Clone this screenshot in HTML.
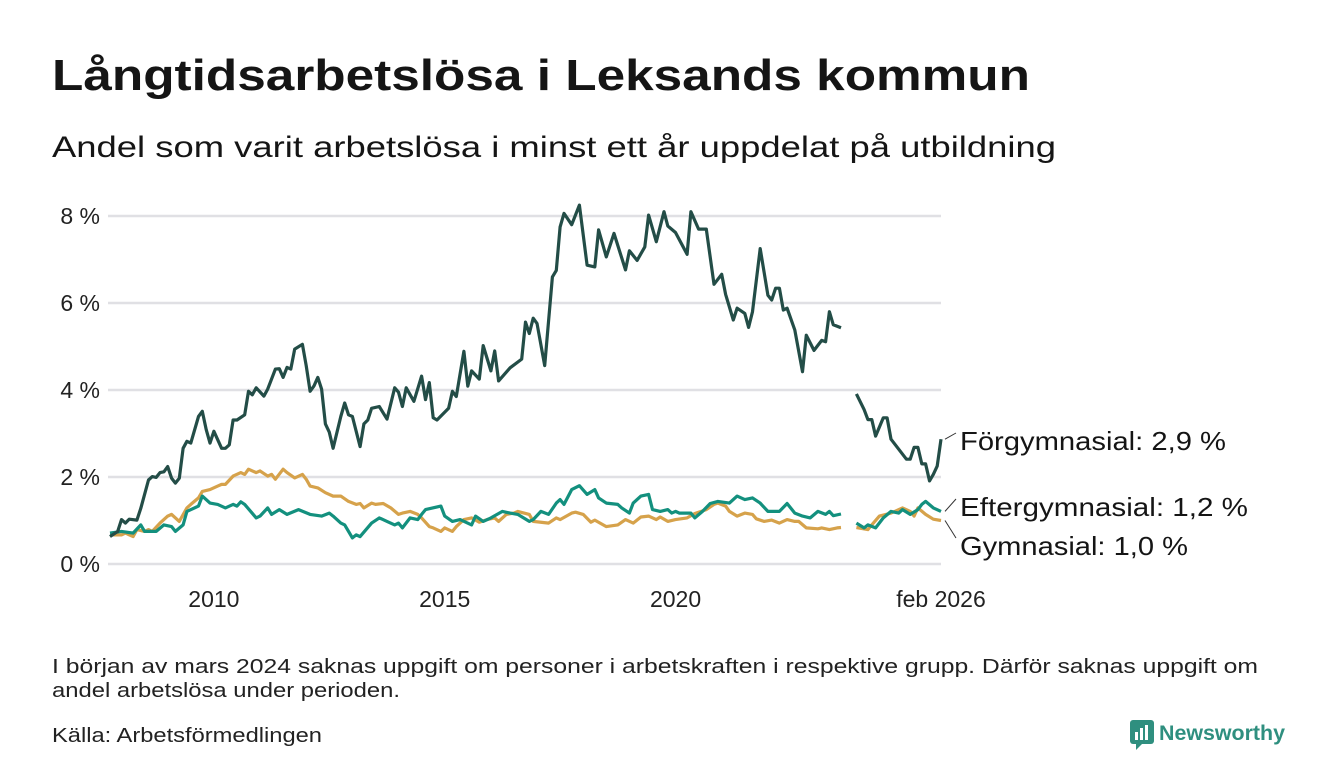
<!DOCTYPE html>
<html><head><meta charset="utf-8"><style>
html,body{margin:0;padding:0;background:#fff;}
svg{display:block;font-family:"Liberation Sans",sans-serif;}
</style></head><body>
<svg id="chart" width="1340" height="780" viewBox="0 0 1340 780">
<text x="52" y="90" font-size="44" font-weight="bold" fill="#151515" textLength="978" lengthAdjust="spacingAndGlyphs">Långtidsarbetslösa i Leksands kommun</text>
<text x="52" y="157" font-size="30" fill="#151515" textLength="1004" lengthAdjust="spacingAndGlyphs">Andel som varit arbetslösa i minst ett år uppdelat på utbildning</text>
<g id="grid"></g>
<g id="yticks"></g>
<g id="xticks"></g>
<g id="lines"></g>
<g id="labels"></g>
<text x="52" y="673" font-size="20" fill="#222" textLength="1206" lengthAdjust="spacingAndGlyphs">I början av mars 2024 saknas uppgift om personer i arbetskraften i respektive grupp. Därför saknas uppgift om</text>
<text x="52" y="697" font-size="20" fill="#222" textLength="348" lengthAdjust="spacingAndGlyphs">andel arbetslösa under perioden.</text>
<text x="52" y="742" font-size="20" fill="#222" textLength="270" lengthAdjust="spacingAndGlyphs">Källa: Arbetsförmedlingen</text>
<g>
<rect x="1130" y="720" width="24" height="24" rx="3" fill="#2f8f7f"/>
<rect x="1135" y="732" width="3" height="8" fill="#fff"/><rect x="1140" y="728" width="3" height="12" fill="#fff"/><rect x="1145" y="725" width="3" height="15" fill="#fff"/>
<path d="M1136 744 L1136 750 L1142 744 Z" fill="#2f8f7f"/>
<text x="1159" y="740" font-size="21" font-weight="bold" fill="#2f8f7f" textLength="126" lengthAdjust="spacingAndGlyphs">Newsworthy</text>
</g>
</svg>
<script>
const yTicks=[0,2,4,6,8];
const xTickLabels=["2010","2015","2020","feb 2026"];
const xTickMonths=[27,87,147,216];
const forg=[[0,0.63],[2,0.75],[3,1.02],[4,0.94],[5,1.03],[7,1.01],[8,1.28],[10,1.93],[11,2.01],[12,1.99],[13,2.1],[14,2.12],[15,2.24],[16,1.97],[17,1.86],[18,1.97],[19,2.66],[20,2.82],[21,2.78],[23,3.39],[24,3.51],[25,3.09],[26,2.78],[27,3.05],[29,2.66],[30,2.66],[31,2.74],[32,3.31],[33,3.31],[35,3.43],[36,3.97],[37,3.89],[38,4.05],[40,3.86],[41,4.02],[43,4.48],[44,4.49],[45,4.29],[46,4.52],[47,4.48],[48,4.94],[50,5.05],[51,4.56],[52,3.97],[53,4.09],[54,4.29],[55,4.02],[56,3.22],[57,3.03],[58,2.66],[60,3.39],[61,3.7],[62,3.43],[63,3.39],[65,2.7],[66,3.22],[67,3.31],[68,3.58],[70,3.62],[72,3.33],[74,4.05],[75,3.95],[76,3.62],[77,4.05],[79,3.74],[81,4.32],[82,3.78],[83,4.17],[84,3.36],[85,3.31],[88,3.58],[89,3.97],[90,3.85],[92,4.89],[93,4.09],[94,4.44],[96,4.25],[97,5.02],[99,4.44],[100,4.9],[101,4.21],[104,4.51],[107,4.71],[108,5.56],[109,5.3],[110,5.65],[111,5.53],[113,4.56],[115,6.6],[116,6.75],[117,7.75],[118,8.06],[120,7.8],[122,8.25],[124,6.87],[126,6.83],[127,7.68],[129,7.06],[131,7.6],[134,6.76],[135,7.2],[137,6.98],[139,7.29],[140,8.02],[142,7.41],[144,8.1],[145,7.77],[147,7.62],[150,7.12],[151,8.1],[153,7.7],[155,7.7],[157,6.43],[159,6.66],[160,6.2],[162,5.61],[163,5.88],[165,5.76],[166,5.44],[167,5.8],[169,7.25],[171,6.18],[172,6.07],[173,6.34],[174,6.34],[175,5.84],[176,5.88],[178,5.38],[180,4.42],[181,5.26],[183,4.91],[185,5.14],[186,5.11],[187,5.8],[188,5.5],[190,5.43],[192,null],[194,3.91],[196,3.55],[197,3.32],[198,3.32],[199,2.94],[201,3.36],[202,3.36],[203,2.87],[205,2.64],[207,2.41],[208,2.41],[209,2.68],[210,2.68],[211,2.3],[212,2.3],[213,1.91],[214,2.06],[215,2.25],[216,2.87]];
const efter=[[0,0.71],[3,0.75],[6,0.71],[8,0.9],[9,0.75],[12,0.75],[14,0.9],[16,0.86],[17,0.75],[19,0.9],[20,1.21],[23,1.33],[24,1.56],[26,1.4],[28,1.37],[30,1.29],[32,1.37],[33,1.33],[34,1.43],[35,1.37],[38,1.06],[39,1.1],[41,1.29],[42,1.14],[44,1.25],[46,1.14],[49,1.25],[52,1.14],[55,1.1],[57,1.17],[58,1.1],[60,0.94],[61,0.9],[63,0.6],[64,0.67],[65,0.63],[68,0.94],[70,1.06],[72,0.98],[74,0.9],[75,0.94],[76,0.83],[78,1.06],[80,1.02],[81,1.14],[82,1.25],[86,1.33],[87,1.1],[89,0.98],[91,1.02],[94,0.9],[95,1.1],[97,0.98],[99,1.06],[102,1.21],[104,1.17],[106,1.14],[109,0.98],[110,1.02],[112,1.21],[114,1.14],[116,1.4],[117,1.48],[118,1.37],[120,1.71],[122,1.8],[124,1.6],[126,1.71],[127,1.52],[129,1.4],[132,1.37],[133,1.29],[135,1.17],[136,1.4],[138,1.56],[140,1.6],[141,1.25],[143,1.21],[145,1.25],[146,1.17],[147,1.21],[148,1.17],[151,1.17],[152,1.06],[154,1.21],[156,1.39],[158,1.44],[161,1.4],[163,1.56],[165,1.48],[167,1.52],[169,1.4],[171,1.21],[173,1.21],[174,1.21],[176,1.39],[178,1.17],[180,1.1],[182,1.06],[184,1.21],[186,1.14],[187,1.21],[188,1.11],[190,1.15],[192,null],[194,0.94],[196,0.83],[197,0.9],[199,0.83],[201,1.06],[203,1.21],[205,1.17],[206,1.25],[208,1.14],[210,1.25],[211,1.37],[212,1.44],[214,1.29],[216,1.21]];
const gymn=[[0,0.67],[3,0.67],[4,0.71],[6,0.63],[7,0.79],[9,0.75],[10,0.79],[11,0.75],[13,0.94],[15,1.1],[16,1.14],[18,0.98],[20,1.29],[21,1.37],[23,1.52],[24,1.67],[26,1.71],[28,1.79],[29,1.83],[30,1.83],[32,2.02],[34,2.1],[35,2.06],[36,2.18],[38,2.1],[39,2.14],[41,2.02],[42,2.06],[43,1.95],[45,2.18],[46,2.1],[48,1.98],[50,2.06],[51,1.95],[52,1.79],[54,1.75],[56,1.64],[58,1.56],[60,1.56],[62,1.44],[64,1.37],[65,1.39],[66,1.29],[68,1.4],[69,1.37],[71,1.39],[73,1.29],[75,1.14],[76,1.17],[78,1.21],[80,1.14],[81,1.06],[83,0.86],[84,0.83],[86,0.75],[87,0.83],[89,0.75],[90,0.86],[92,1.02],[94,1.06],[96,0.96],[98,1.02],[100,1.06],[101,0.98],[103,1.14],[105,1.17],[106,1.21],[109,1.14],[110,0.98],[114,0.94],[116,1.06],[117,1.02],[120,1.17],[121,1.19],[123,1.14],[125,0.96],[126,1.01],[129,0.86],[132,0.9],[134,1.02],[136,0.94],[138,1.08],[140,1.1],[142,1.02],[143,1.08],[145,0.98],[147,1.02],[150,1.06],[152,1.16],[155,1.25],[157,1.37],[158,1.4],[160,1.33],[161,1.21],[163,1.1],[165,1.17],[167,1.14],[168,1.04],[170,0.98],[172,1.01],[174,0.94],[176,1.02],[178,0.98],[179,0.98],[181,0.83],[184,0.81],[185,0.83],[187,0.79],[189,0.83],[190,0.84],[192,null],[194,0.84],[197,0.79],[198,0.9],[200,1.1],[203,1.17],[204,1.21],[206,1.29],[208,1.21],[209,1.1],[210,1.29],[212,1.14],[214,1.03],[216,1.0]];
const seriesNames=["Förgymnasial","Eftergymnasial","Gymnasial"];
const seriesColors=["#234d47","#13907e","#d6a24b"];

const NS="http://www.w3.org/2000/svg";
const X0=110,X1=941,M1=216,Y0=564,YPER=43.5;
function xs(m){return X0+(X1-X0)*m/M1;}
function ys(v){return Y0-v*YPER;}
function mk(tag,attrs,parent){const e=document.createElementNS(NS,tag);for(const k in attrs)e.setAttribute(k,attrs[k]);parent.appendChild(e);return e;}
const grid=document.getElementById('grid'),yg=document.getElementById('yticks'),xg=document.getElementById('xticks'),lg=document.getElementById('lines'),lab=document.getElementById('labels');
yTicks.forEach(v=>{
  const l=mk('line',{x1:108,x2:941,y1:ys(v),y2:ys(v),stroke:'#e0e0e4','stroke-width':2.5},grid);
  
  
  const t=mk('text',{x:100,y:ys(v)+8,'font-size':23,fill:'#222','text-anchor':'end'},yg);
  t.textContent=v+' %';
  
  
});
xTickLabels.forEach((s,i)=>{
  const t=mk('text',{x:xs(xTickMonths[i]),y:607,'font-size':23,fill:'#222','text-anchor':'middle'},xg);
  t.textContent=s;
  
  
});
[forg,efter,gymn].forEach((data,si)=>{
  let d='',pen=false;
  data.forEach(p=>{
    if(p[1]===null){pen=false;return;}
    d+=(pen?'L':'M')+xs(p[0]).toFixed(1)+' '+ys(p[1]).toFixed(1)+' ';pen=true;
  });
  const path=mk('path',{d:d,fill:'none',stroke:seriesColors[si],'stroke-width':3.2,'stroke-linejoin':'round'},lg);
  
  
});
lg.appendChild(lg.children[1]);lg.appendChild(lg.children[0]);
const lastVals=[forg,efter,gymn].map(a=>a[a.length-1][1]);
const labelY=[441,507,546];
const labelW=[266,288,228];
lastVals.forEach((v,i)=>{
  const ly=labelY[i]-8;
  const c=mk('line',{x1:945,y1:ys(v),x2:956,y2:ly,stroke:'#333','stroke-width':1},lab);
  
  
  const t=mk('text',{x:960,y:labelY[i]+9,'font-size':26,fill:'#151515',textLength:labelW[i],lengthAdjust:'spacingAndGlyphs'},lab);
  t.textContent=seriesNames[i]+': '+v.toFixed(1).replace('.',',')+' %';
  
  
});
</script>
</body></html>
